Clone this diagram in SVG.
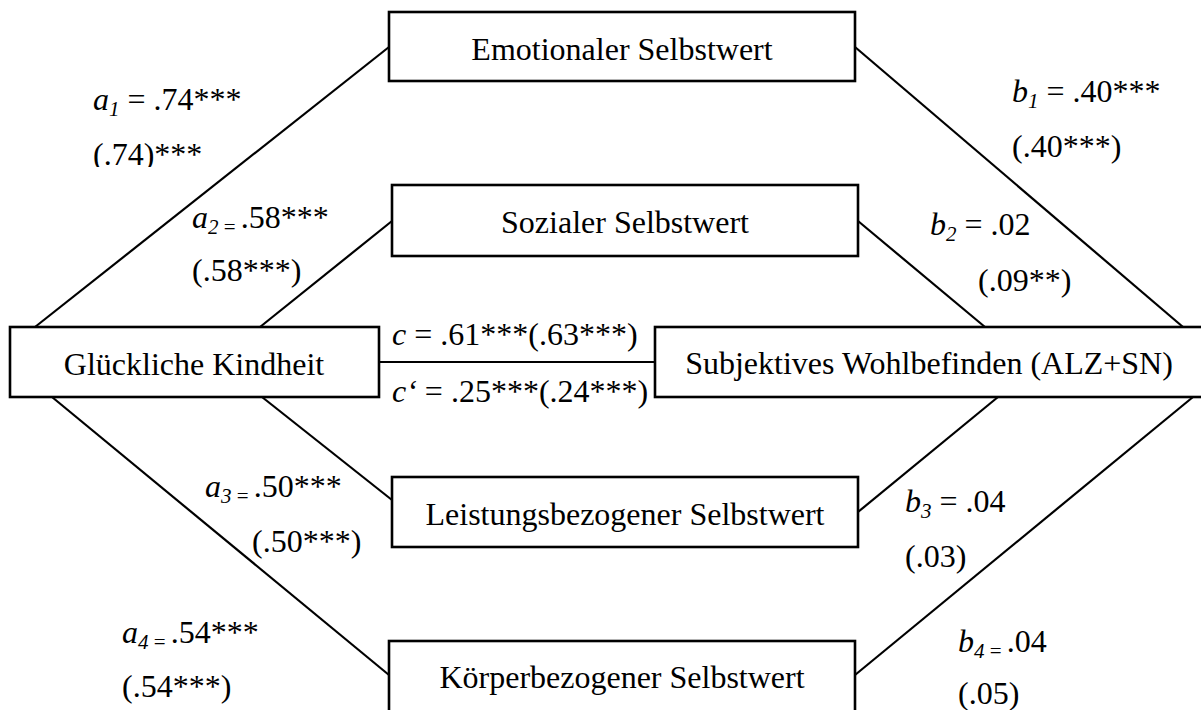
<svg xmlns="http://www.w3.org/2000/svg" width="1201" height="710" viewBox="0 0 1201 710">
<style>
  .box { fill: #ffffff; stroke: #000000; stroke-width: 2.6; }
  .conn line { stroke: #000000; stroke-width: 2.2; }
  text { font-family: "Liberation Serif", "Times New Roman", serif; font-size: 32px; fill: #000000; }
  .node text { text-anchor: middle; }
  .it { font-style: italic; }
  .sub { font-style: italic; font-size: 21px; }
  .sm { font-size: 21px; }
</style>
<defs>
  <clipPath id="clipA1"><rect x="0" y="0" width="380" height="167"/></clipPath>
</defs>
<rect x="0" y="0" width="1201" height="710" fill="#ffffff"/>

<g id="connectors" class="conn">
  <line x1="35" y1="327" x2="389" y2="47"/>
  <line x1="260" y1="327" x2="392" y2="221"/>
  <line x1="262" y1="397" x2="392" y2="500"/>
  <line x1="52" y1="397" x2="389" y2="675"/>
  <line x1="379" y1="362" x2="655" y2="362"/>
  <line x1="855" y1="47" x2="1183" y2="327"/>
  <line x1="858" y1="221" x2="985" y2="327"/>
  <line x1="998" y1="397" x2="858" y2="512"/>
  <line x1="1193" y1="397" x2="855" y2="675"/>
</g>

<g id="node-emotional" class="node">
  <rect class="box" x="389" y="12" width="466" height="69"/>
  <text x="622" y="60">Emotionaler Selbstwert</text>
</g>
<g id="node-sozial" class="node">
  <rect class="box" x="392" y="185" width="466" height="71"/>
  <text x="625" y="233">Sozialer Selbstwert</text>
</g>
<g id="node-kindheit" class="node">
  <rect class="box" x="10" y="327" width="369" height="70"/>
  <text x="194" y="375">Glückliche Kindheit</text>
</g>
<g id="node-wohlbefinden" class="node">
  <rect class="box" x="655" y="327" width="550" height="70"/>
  <text x="929" y="374">Subjektives Wohlbefinden (ALZ+SN)</text>
</g>
<g id="node-leistung" class="node">
  <rect class="box" x="392" y="477" width="466" height="70"/>
  <text x="625" y="525">Leistungsbezogener Selbstwert</text>
</g>
<g id="node-koerper" class="node">
  <rect class="box" x="389" y="641" width="466" height="74"/>
  <text x="622" y="688">Körperbezogener Selbstwert</text>
</g>

<g id="labels">
  <text x="93" y="110"><tspan class="it">a</tspan><tspan class="sub" dy="6">1</tspan><tspan dy="-6"> = .74***</tspan></text>
  <text x="93" y="165" clip-path="url(#clipA1)">(.74)***</text>

  <text x="1012" y="102"><tspan class="it">b</tspan><tspan class="sub" dy="6">1</tspan><tspan dy="-6"> = .40***</tspan></text>
  <text x="1012" y="157">(.40***)</text>

  <text x="192" y="228"><tspan class="it">a</tspan><tspan class="sub" dy="6">2</tspan><tspan class="sm"> = </tspan><tspan dy="-6">.58***</tspan></text>
  <text x="192" y="281">(.58***)</text>

  <text x="930" y="235"><tspan class="it">b</tspan><tspan class="sub" dy="6">2</tspan><tspan dy="-6"> = .02</tspan></text>
  <text x="978" y="291">(.09**)</text>

  <text x="392" y="345"><tspan class="it">c</tspan> = .61***(.63***)</text>
  <text x="392" y="402"><tspan class="it">c‘</tspan> = .25***(.24***)</text>

  <text x="205" y="497"><tspan class="it">a</tspan><tspan class="sub" dy="6">3</tspan><tspan class="sm"> = </tspan><tspan dy="-6">.50***</tspan></text>
  <text x="252" y="552">(.50***)</text>

  <text x="905" y="512"><tspan class="it">b</tspan><tspan class="sub" dy="6">3</tspan><tspan dy="-6"> = .04</tspan></text>
  <text x="905" y="567">(.03)</text>

  <text x="122" y="643"><tspan class="it">a</tspan><tspan class="sub" dy="6">4</tspan><tspan class="sm"> = </tspan><tspan dy="-6">.54***</tspan></text>
  <text x="122" y="697">(.54***)</text>

  <text x="958" y="652"><tspan class="it">b</tspan><tspan class="sub" dy="6">4</tspan><tspan class="sm"> = </tspan><tspan dy="-6">.04</tspan></text>
  <text x="958" y="704">(.05)</text>
</g>
</svg>
